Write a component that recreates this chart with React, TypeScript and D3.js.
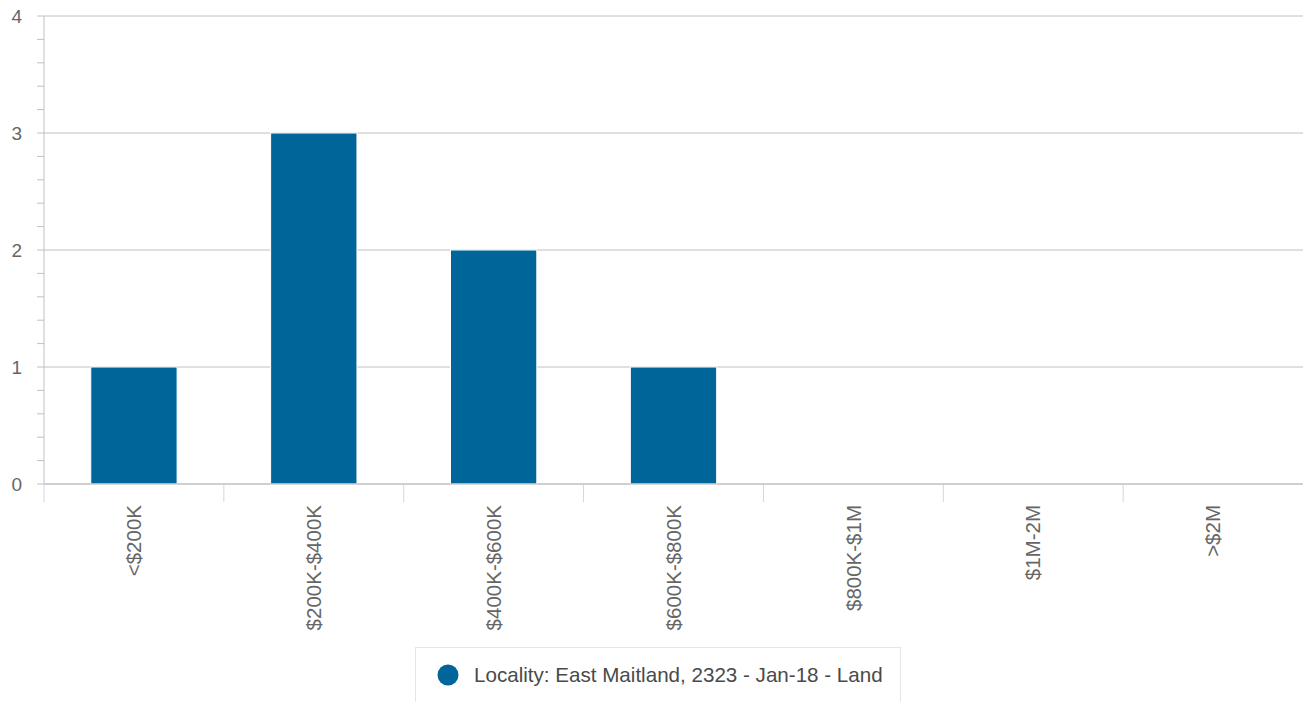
import React from "react";
import * as d3 from "d3";

const categories = ["<$200K", "$200K-$400K", "$400K-$600K", "$600K-$800K", "$800K-$1M", "$1M-2M", ">$2M"];
const counts = [1, 3, 2, 1, 0, 0, 0];
const yTicks = [0, 1, 2, 3, 4];
const seriesName = "Locality: East Maitland, 2323 - Jan-18 - Land";

const W = 1304;
const H = 702;
const M = { left: 44, right: 1303, top: 16, bottom: 484 };
const BAR_COLOR = "#006699";
const GRID = "#c0c0c0";
const FONT = "'Liberation Sans', Arial, Helvetica, sans-serif";

export default function App() {
  const x = d3.scaleBand<string>().domain(categories).range([M.left, M.right]).paddingInner(0).paddingOuter(0);
  const y = d3.scaleLinear().domain([0, 4]).range([M.bottom, M.top]);
  const barW = x.bandwidth() * 0.48;
  const minor = d3.range(0, 4.0001, 0.2);

  return (
    <svg width={W} height={H} style={{ position: "absolute", left: 0, top: 0, background: "#fff" }} fontFamily={FONT}>
      {yTicks.map((t) => (
        <line key={"g" + t} x1={M.left} x2={M.right} y1={y(t)} y2={y(t)} stroke={GRID} strokeWidth={1} />
      ))}
      <line x1={M.left} x2={M.left} y1={M.top} y2={M.bottom} stroke={GRID} strokeWidth={1} />
      {minor.map((t, i) => (
        <line key={"m" + i} x1={M.left - 7} x2={M.left} y1={y(t)} y2={y(t)} stroke={GRID} strokeWidth={1} />
      ))}
      {yTicks.map((t) => (
        <text key={"yl" + t} x={22} y={y(t)} dy="0.35em" textAnchor="end" fontSize={19} fill="#666">
          {t}
        </text>
      ))}
      {categories.map((c) => (
        <line key={"xt" + c} x1={x(c)!} x2={x(c)!} y1={M.bottom} y2={M.bottom + 18} stroke="#ccd6eb" strokeWidth={1} />
      ))}
      {categories.map((c, i) =>
        counts[i] > 0 ? (
          <rect
            key={"b" + c}
            x={x(c)! + (x.bandwidth() - barW) / 2}
            y={y(counts[i])}
            width={barW}
            height={y(0) - y(counts[i])}
            fill={BAR_COLOR}
            stroke="#fff"
            strokeWidth={1}
          />
        ) : null
      )}
      <line x1={M.left} x2={M.right} y1={M.bottom} y2={M.bottom} stroke={GRID} strokeWidth={1} />
      {categories.map((c) => {
        const cx = x(c)! + x.bandwidth() / 2;
        const ty = M.bottom + 21;
        return (
          <text
            key={"xl" + c}
            transform={`translate(${cx},${ty}) rotate(-90)`}
            dy="0.35em"
            textAnchor="end"
            fontSize={20.5}
            fill="#666"
          >
            {c}
          </text>
        );
      })}
      <rect x={415.5} y={647.5} width={485} height={70} fill="#fff" stroke="#e6e6e6" strokeWidth={1} />
      <circle cx={448} cy={675} r={10.5} fill={BAR_COLOR} />
      <text x={474} y={682} fontSize={20.6} fill="#4a4a4a">
        {seriesName}
      </text>
    </svg>
  );
}
